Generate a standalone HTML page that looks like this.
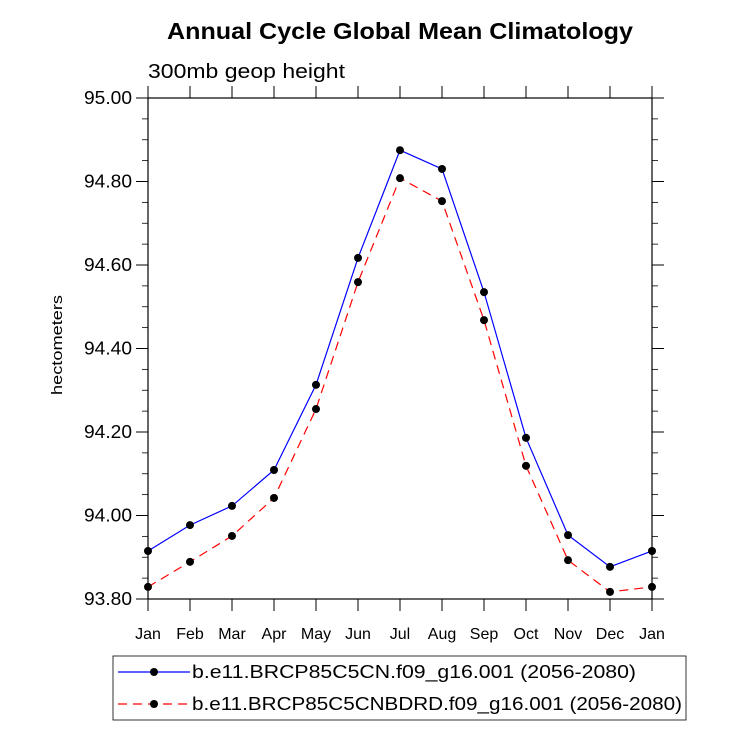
<!DOCTYPE html>
<html><head><meta charset="utf-8"><style>
body{margin:0;background:#fff}
text{font-family:"Liberation Sans",sans-serif}
</style></head><body>
<svg id="chart" width="733" height="744" xmlns="http://www.w3.org/2000/svg">
<text x="167" y="39" font-size="23" font-weight="bold" textLength="466" lengthAdjust="spacingAndGlyphs">Annual Cycle Global Mean Climatology</text>
<text x="148" y="78" font-size="20" textLength="197" lengthAdjust="spacingAndGlyphs">300mb geop height</text>
<text transform="translate(62,395) rotate(-90)" font-size="15" textLength="100" lengthAdjust="spacingAndGlyphs">hectometers</text>
<rect x="148" y="98" width="504" height="501" fill="none" stroke="#000" stroke-width="1.2"/>
<g id="axes"></g>
<g id="series"></g>
<g>
<rect x="113" y="656" width="573" height="64" fill="none" stroke="#000" stroke-width="0.8"/>
<line x1="118" y1="672" x2="190" y2="672" stroke="#00f" stroke-width="1.2"/>
<circle cx="154" cy="672" r="4" fill="#000"/>
<text x="192" y="678" font-size="18" textLength="444" lengthAdjust="spacingAndGlyphs">b.e11.BRCP85C5CN.f09_g16.001 (2056-2080)</text>
<line x1="118" y1="704" x2="190" y2="704" stroke="#f00" stroke-width="1.2" stroke-dasharray="9,6"/>
<circle cx="154" cy="704" r="4" fill="#000"/>
<text x="192" y="710" font-size="18" textLength="490" lengthAdjust="spacingAndGlyphs">b.e11.BRCP85C5CNBDRD.f09_g16.001 (2056-2080)</text>
</g>
</svg>
<script>
const months=["Jan","Feb","Mar","Apr","May","Jun","Jul","Aug","Sep","Oct","Nov","Dec","Jan"];
const seriesCN=[93.915,93.977,94.023,94.109,94.313,94.617,94.875,94.830,94.535,94.186,93.953,93.877,93.915];
const seriesBDRD=[93.829,93.889,93.951,94.042,94.255,94.559,94.808,94.753,94.468,94.119,93.893,93.817,93.829];
const yTicks=[93.80,94.00,94.20,94.40,94.60,94.80,95.00];
const NS="http://www.w3.org/2000/svg";
const x0=148,x1=652,y0=599,y1=98,ymin=93.8,ymax=95.0;
const xs=i=>x0+(x1-x0)*i/(months.length-1);
const ys=v=>y0-(y0-y1)*(v-ymin)/(ymax-ymin);
function mk(tag,attrs,parent){const e=document.createElementNS(NS,tag);for(const k in attrs)e.setAttribute(k,attrs[k]);parent.appendChild(e);return e;}
const ax=document.getElementById('axes');
months.forEach((m,i)=>{
  const x=xs(i);
  const l1=mk('line',{x1:x,x2:x,y1:y1,y2:y1-12,stroke:'#000','stroke-width':1},ax);
  
  
  const l2=mk('line',{x1:x,x2:x,y1:y0,y2:y0+12,stroke:'#000','stroke-width':1},ax);
  
  
  const t=mk('text',{x:x,y:y0+40,'text-anchor':'middle','font-size':16},ax);
  t.textContent=m;
  
  
});
for(let k=0;k<yTicks.length;k++){
  const v=yTicks[k],y=ys(v);
  [[x0,x0-12],[x1,x1+12]].forEach(p=>{
    const l=mk('line',{x1:p[0],x2:p[1],y1:y,y2:y,stroke:'#000','stroke-width':1},ax);
    
    
  });
  const t=mk('text',{x:x0-16,y:y+6,'text-anchor':'end','font-size':18,textLength:48,lengthAdjust:'spacingAndGlyphs'},ax);
  t.textContent=v.toFixed(2);
  
  
  if(k<yTicks.length-1){
    for(let j=1;j<4;j++){
      const ym=ys(v+0.05*j);
      [[x0,x0-6],[x1,x1+6]].forEach(p=>{
        const l=mk('line',{x1:p[0],x2:p[1],y1:ym,y2:ym,stroke:'#000','stroke-width':0.8},ax);
        
        
      });
    }
  }
}
const sg=document.getElementById('series');
function drawSeries(vals,color,dash,name){
  const pts=vals.map((v,i)=>xs(i)+','+ys(v)).join(' ');
  const pl=mk('polyline',{points:pts,fill:'none',stroke:color,'stroke-width':1.2},sg);
  if(dash)pl.setAttribute('stroke-dasharray',dash);
  
  
  vals.forEach((v,i)=>{
    const c=mk('circle',{cx:xs(i),cy:ys(v),r:4,fill:'#000'},sg);
    
    
  });
}
drawSeries(seriesCN,'#00f',null,'cn-series');
drawSeries(seriesBDRD,'#f00','9,6','cnbdrd-series');
</script>
</body></html>
